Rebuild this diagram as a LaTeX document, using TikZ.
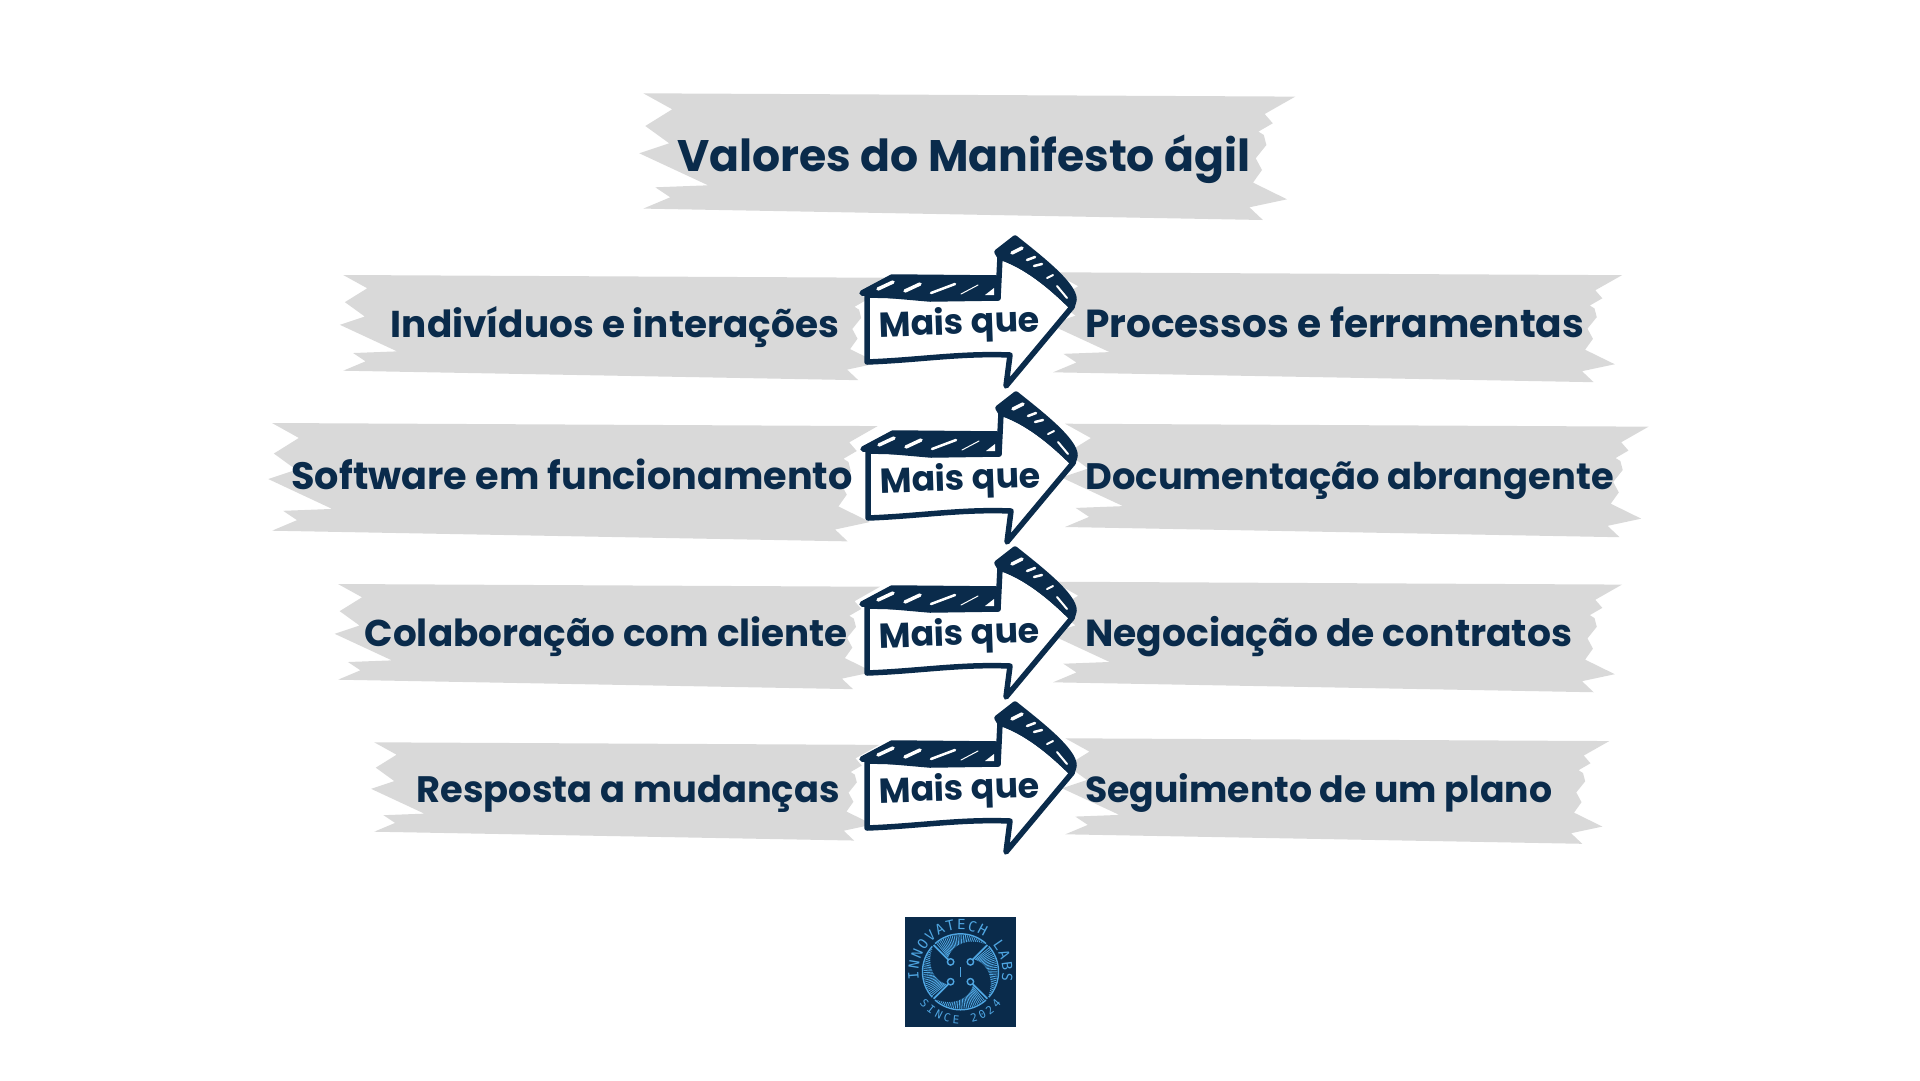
\documentclass[tikz,border=0pt]{standalone}
\usepackage{graphicx}
\usepackage{fontspec}
\setmainfont{Poppins}
\newfontfamily\logofont{DejaVu Sans Mono}
\usetikzlibrary{decorations.text}
\definecolor{navy}{HTML}{0A2B4B}
\definecolor{tapegray}{HTML}{D9D9D9}
\definecolor{logoblue}{HTML}{4FA6E2}
\tikzset{
  tape/.style={fill=tapegray},
  word/.style={anchor=base west,inner sep=0pt,text=navy,font=\bfseries},
  outline/.style={draw=navy,line width=5.5pt,line join=round,line cap=round},
  slash/.style={draw=white,line cap=round},
}
% x left, y top, width, height of one torn strip
\newcommand{\tapeband}[4]{
  \fill[tape,shift={(#1,#2)},xscale=#3/654,yscale=#4/115.3]
    (0,0) -- (654,3.3) -- (623.3,20.7) -- (631.4,30) -- (617,38.3) -- (622.4,41.7)
    -- (625,51.7) -- (614.3,65) -- (620.6,76.7) -- (611.6,89.3) -- (645.7,106)
    -- (608,114) -- (621.5,126.7) -- (0,115.3) -- (27,104) -- (12,94) -- (65,92)
    -- (-4,60) -- (26,50) -- (2,32.7) -- (29,16) -- cycle;
}
\newcommand{\fitted}[2]{\resizebox{#1pt}{!}{#2}}
\begin{document}
\begin{tikzpicture}[x=1pt,y=-1pt]
\useasboundingbox (0,0) rectangle (1920,1080);

  \tapeband{643.3}{93.3}{652}{115.3}
  \tapeband{343.2}{275}{542}{95.7}
  \tapeband{1053}{272.3}{569}{100}
  \tapeband{272}{423}{605.7}{107.7}
  \tapeband{1065}{423.7}{583.6}{103.3}
  \tapeband{338}{584}{542}{95.7}
  \tapeband{1053}{581.7}{569}{100.6}
  \tapeband{374.2}{742.3}{505}{89.4}
  \tapeband{1065.3}{738.3}{544}{96}

  \node[word] (title) at (677,171) {\fitted{573}{Valores do Manifesto ágil}};

  \node[word] (left1) at (390.7,337) {\fitted{448}{Indivíduos e interações}};
  \node[word] (right1) at (1085,337.5) {\fitted{499}{Processos e ferramentas}};
  \node[word] (left2) at (291.3,489.5) {\fitted{561}{Software em funcionamento}};
  \node[word] (right2) at (1085.4,489.5) {\fitted{528}{Documentação abrangente}};
  \node[word] (left3) at (364.6,646) {\fitted{483}{Colaboração com cliente}};
  \node[word] (right3) at (1085,646.5) {\fitted{487}{Negociação de contratos}};
  \node[word] (left4) at (416.5,802) {\fitted{423}{Resposta a mudanças}};
  \node[word] (right4) at (1085,802) {\fitted{467}{Seguimento de um plano}};

  \foreach \n/\dx/\dy in {1/0/0,2/1/156,3/0/311,4/0/466}{
  \begin{scope}[shift={(\dx,\dy)}]
    % body
    \draw[outline,fill=white] (867,295) -- (867,362)
      .. controls (920,360) and (960,353) .. (1010,355)
      -- (1006,386) -- (1072,307)
      .. controls (1050,285) and (1025,265) .. (1000,257)
      -- (998,298) -- cycle;
    % top face
    \fill[outline,fill=navy] (862,293) -- (892,277) -- (997,278) -- (998,298)
      -- (930,299) -- cycle;
    \draw[slash,line width=3.5pt] (878,289) -- (893,282);
    \draw[slash,line width=3.5pt] (905,291) -- (920,284);
    \draw[slash,line width=2.5pt] (931,293) -- (955,284);
    \draw[slash,line width=1pt] (961,294) -- (978,285);
    \fill[white] (985,295) -- (994,295) -- (994,288) -- cycle;
    % top of the head
    \fill[outline,fill=navy] (997,252) -- (1015,238)
      .. controls (1040,258) and (1075,285) .. (1074,300)
      -- (1072,307) .. controls (1050,285) and (1025,265) .. (1000,257) -- cycle;
    \draw[slash,line width=3.5pt] (1012,253) -- (1022,248);
    \draw[slash,line width=2.5pt] (1027,260) -- (1035,257);
    \draw[slash,line width=2.5pt] (1034,266) -- (1042,264);
    \draw[slash,line width=2pt] (1047,278) -- (1053,275);
    \draw[slash,line width=2pt] (1057,286) -- (1067,298);
    \node[word,rotate=2] (mais\n) at (879,337) {\fitted{161}{Mais que}};
  \end{scope}
  }

  % logo
  \node[fill=navy,minimum width=111pt,minimum height=110pt,inner sep=0pt] (logo) at (960.5,971.8) {};
  \begin{scope}[shift={(logo.center)},x=1pt,y=1pt]
    \foreach \r in {0,90,180,270}{
      \begin{scope}[rotate=\r]
        \draw[logoblue,line width=1.4pt] (48:38) arc[start angle=48,end angle=132,radius=38];
        \foreach \a in {52,55,...,130}
          \draw[logoblue,line width=.8pt] (\a:37) -- (\a:{37-(\a-48)*0.22});
        \draw[logoblue,line width=1.8pt] (135:38) -- (135:17);
        \draw[logoblue,line width=1.4pt] (135:14) circle[radius=3.2];
      \end{scope}
    }
    \draw[logoblue,line width=1pt] (0,-5) -- (0,5);
    \path[postaction={decorate,decoration={text along path,text align=fit to path,
        text={|\logofont\fontsize{14pt}{14pt}\selectfont\color{logoblue}|INNOVATECH LABS}}}]
      (190:42) arc[start angle=190,end angle=-12,radius=42];
    \path[postaction={decorate,decoration={text along path,text align=fit to path,
        text={|\logofont\fontsize{11pt}{11pt}\selectfont\color{logoblue}|SINCE 2024}}}]
      (218:52) arc[start angle=218,end angle=322,radius=52];
  \end{scope}

\end{tikzpicture}
\end{document}
